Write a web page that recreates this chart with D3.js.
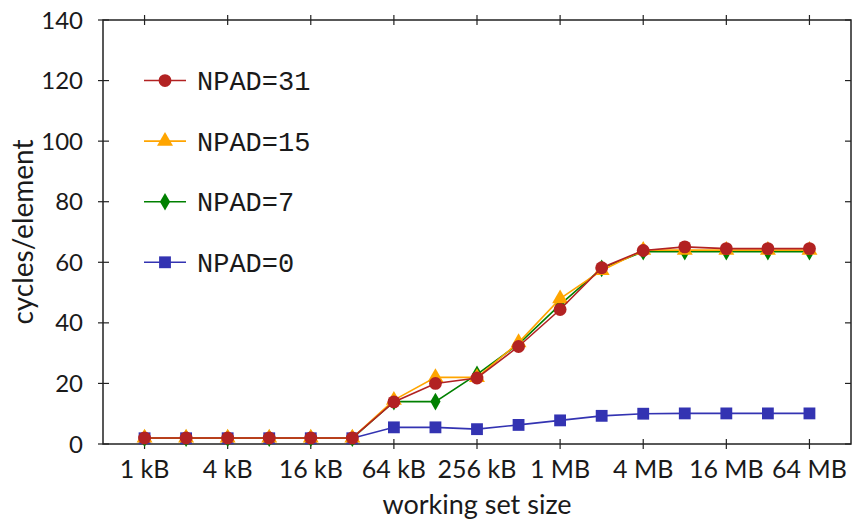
<!DOCTYPE html>
<html>
<head>
<meta charset="utf-8">
<script src="https://cdn.jsdelivr.net/npm/d3@7"></script>
<style>
  body { margin: 0; background: #fff; }
  text { font-family: Lato, "DejaVu Sans", sans-serif; fill: #1a1a1a; }
  .mono { font-family: "Liberation Mono", "DejaVu Sans Mono", monospace; }
</style>
</head>
<body>
<svg id="chart"></svg>
<script>
// working set sizes in bytes, 1 kB .. 64 MB
const sizes = d3.range(10, 27).map(p => Math.pow(2, p));
const tickSizes = [10, 12, 14, 16, 18, 20, 22, 24, 26].map(p => Math.pow(2, p));
const tickLabels = ["1 kB", "4 kB", "16 kB", "64 kB", "256 kB", "1 MB", "4 MB", "16 MB", "64 MB"];
const yTicks = [0, 20, 40, 60, 80, 100, 120, 140];

const npad0 = [1.9, 1.9, 1.9, 1.9, 1.9, 1.9, 5.5, 5.5, 4.9, 6.3, 7.8, 9.3, 10.0, 10.1, 10.1, 10.1, 10.1];
const npad7 = [1.9, 1.9, 1.9, 1.9, 1.9, 1.9, 14.0, 14.0, 23.0, 33.0, 46.0, 58.0, 63.5, 63.5, 63.5, 63.5, 63.5];
const npad15 = [2.0, 2.0, 2.0, 2.0, 2.0, 2.0, 14.5, 22.0, 22.0, 33.5, 48.0, 57.3, 64.0, 64.0, 64.0, 64.0, 64.0];
const npad31 = [2.0, 2.0, 2.0, 2.0, 2.0, 2.0, 13.9, 20.0, 21.8, 32.2, 44.4, 58.2, 63.9, 65.1, 64.5, 64.5, 64.5];

const series = [
    {name: "NPAD=31", values: npad31, color: "#b22222", symbol: d3.symbolCircle, size: 130},
    {name: "NPAD=15", values: npad15, color: "#ffa500", symbol: d3.symbolTriangle, size: 110},
    {name: "NPAD=7", values: npad7, color: "#008000", symbol: d3.symbolDiamond, size: 90},
    {name: "NPAD=0", values: npad0, color: "#3333b2", symbol: d3.symbolSquare, size: 140}
];

const width = 855, height = 523;
const margin = {top: 20, right: 4, bottom: 79, left: 103};
const svg = d3.select("#chart")
    .attr("width", width)
    .attr("height", height);

const x = d3.scaleLog().base(2)
    .domain([Math.pow(2, 9), Math.pow(2, 27)])
    .range([margin.left, width - margin.right]);
const y = d3.scaleLinear()
    .domain([0, 140])
    .range([height - margin.bottom, margin.top]);

const x0 = x.range()[0], x1 = x.range()[1];
const y0 = y.range()[0], y1 = y.range()[1];

// frame
svg.append("rect")
    .attr("x", x0).attr("y", y1)
    .attr("width", x1 - x0).attr("height", y0 - y1)
    .attr("fill", "none").attr("stroke", "#222").attr("stroke-width", 1.5);

// ticks crossing the frame
const tickG = svg.append("g").attr("stroke", "#222").attr("stroke-width", 1.2);
tickSizes.forEach(s => {
    tickG.append("line").attr("x1", x(s)).attr("x2", x(s)).attr("y1", y0 - 5).attr("y2", y0 + 5);
    tickG.append("line").attr("x1", x(s)).attr("x2", x(s)).attr("y1", y1 - 5).attr("y2", y1 + 5);
});
yTicks.forEach(v => {
    tickG.append("line").attr("x1", x0 - 5).attr("x2", x0 + 6).attr("y1", y(v)).attr("y2", y(v));
    tickG.append("line").attr("x1", x1 - 6).attr("x2", x1).attr("y1", y(v)).attr("y2", y(v));
});

// tick labels
svg.append("g").selectAll("text")
    .data(tickSizes)
    .join("text")
    .attr("x", d => x(d))
    .attr("y", y0 + 34)
    .attr("text-anchor", "middle")
    .attr("font-size", 25)
    .text((d, i) => tickLabels[i]);
svg.append("g").selectAll("text")
    .data(yTicks)
    .join("text")
    .attr("x", x0 - 20)
    .attr("y", d => y(d))
    .attr("dy", "0.36em")
    .attr("text-anchor", "end")
    .attr("font-size", 24)
    .text(d => d);

// axis titles
svg.append("text")
    .attr("x", (x0 + x1) / 2)
    .attr("y", height - 9)
    .attr("text-anchor", "middle")
    .attr("font-size", 27)
    .text("working set size");
svg.append("text")
    .attr("transform", `translate(33,${(y0 + y1) / 2}) rotate(-90)`)
    .attr("text-anchor", "middle")
    .attr("font-size", 28)
    .text("cycles/element");

// series, drawn bottom-up so NPAD=31 ends on top
const line = d3.line()
    .x((d, i) => x(sizes[i]))
    .y(d => y(d));
series.slice().reverse().forEach(s => {
    const g = svg.append("g");
    g.append("path")
        .attr("d", line(s.values))
        .attr("fill", "none")
        .attr("stroke", s.color)
        .attr("stroke-width", 1.6);
    g.selectAll("path.pt")
        .data(s.values)
        .join("path")
        .attr("class", "pt")
        .attr("transform", (d, i) => `translate(${x(sizes[i])},${y(d)})`)
        .attr("d", d3.symbol().type(s.symbol).size(s.size))
        .attr("fill", s.color);
});

// legend, one row per 20 units of the y scale
const legend = svg.append("g");
const rowStep = y(0) - y(20);
series.forEach((s, i) => {
    const ly = y(120) + i * rowStep;
    legend.append("line")
        .attr("x1", 144).attr("x2", 186)
        .attr("y1", ly).attr("y2", ly)
        .attr("stroke", s.color).attr("stroke-width", 1.6);
    legend.append("path")
        .attr("transform", `translate(165,${ly})`)
        .attr("d", d3.symbol().type(s.symbol).size(s.size))
        .attr("fill", s.color);
    legend.append("text")
        .attr("class", "mono")
        .attr("x", 197)
        .attr("y", ly)
        .attr("dy", "0.36em")
        .attr("font-size", 27)
        .text(s.name);
});
</script>
</body>
</html>
